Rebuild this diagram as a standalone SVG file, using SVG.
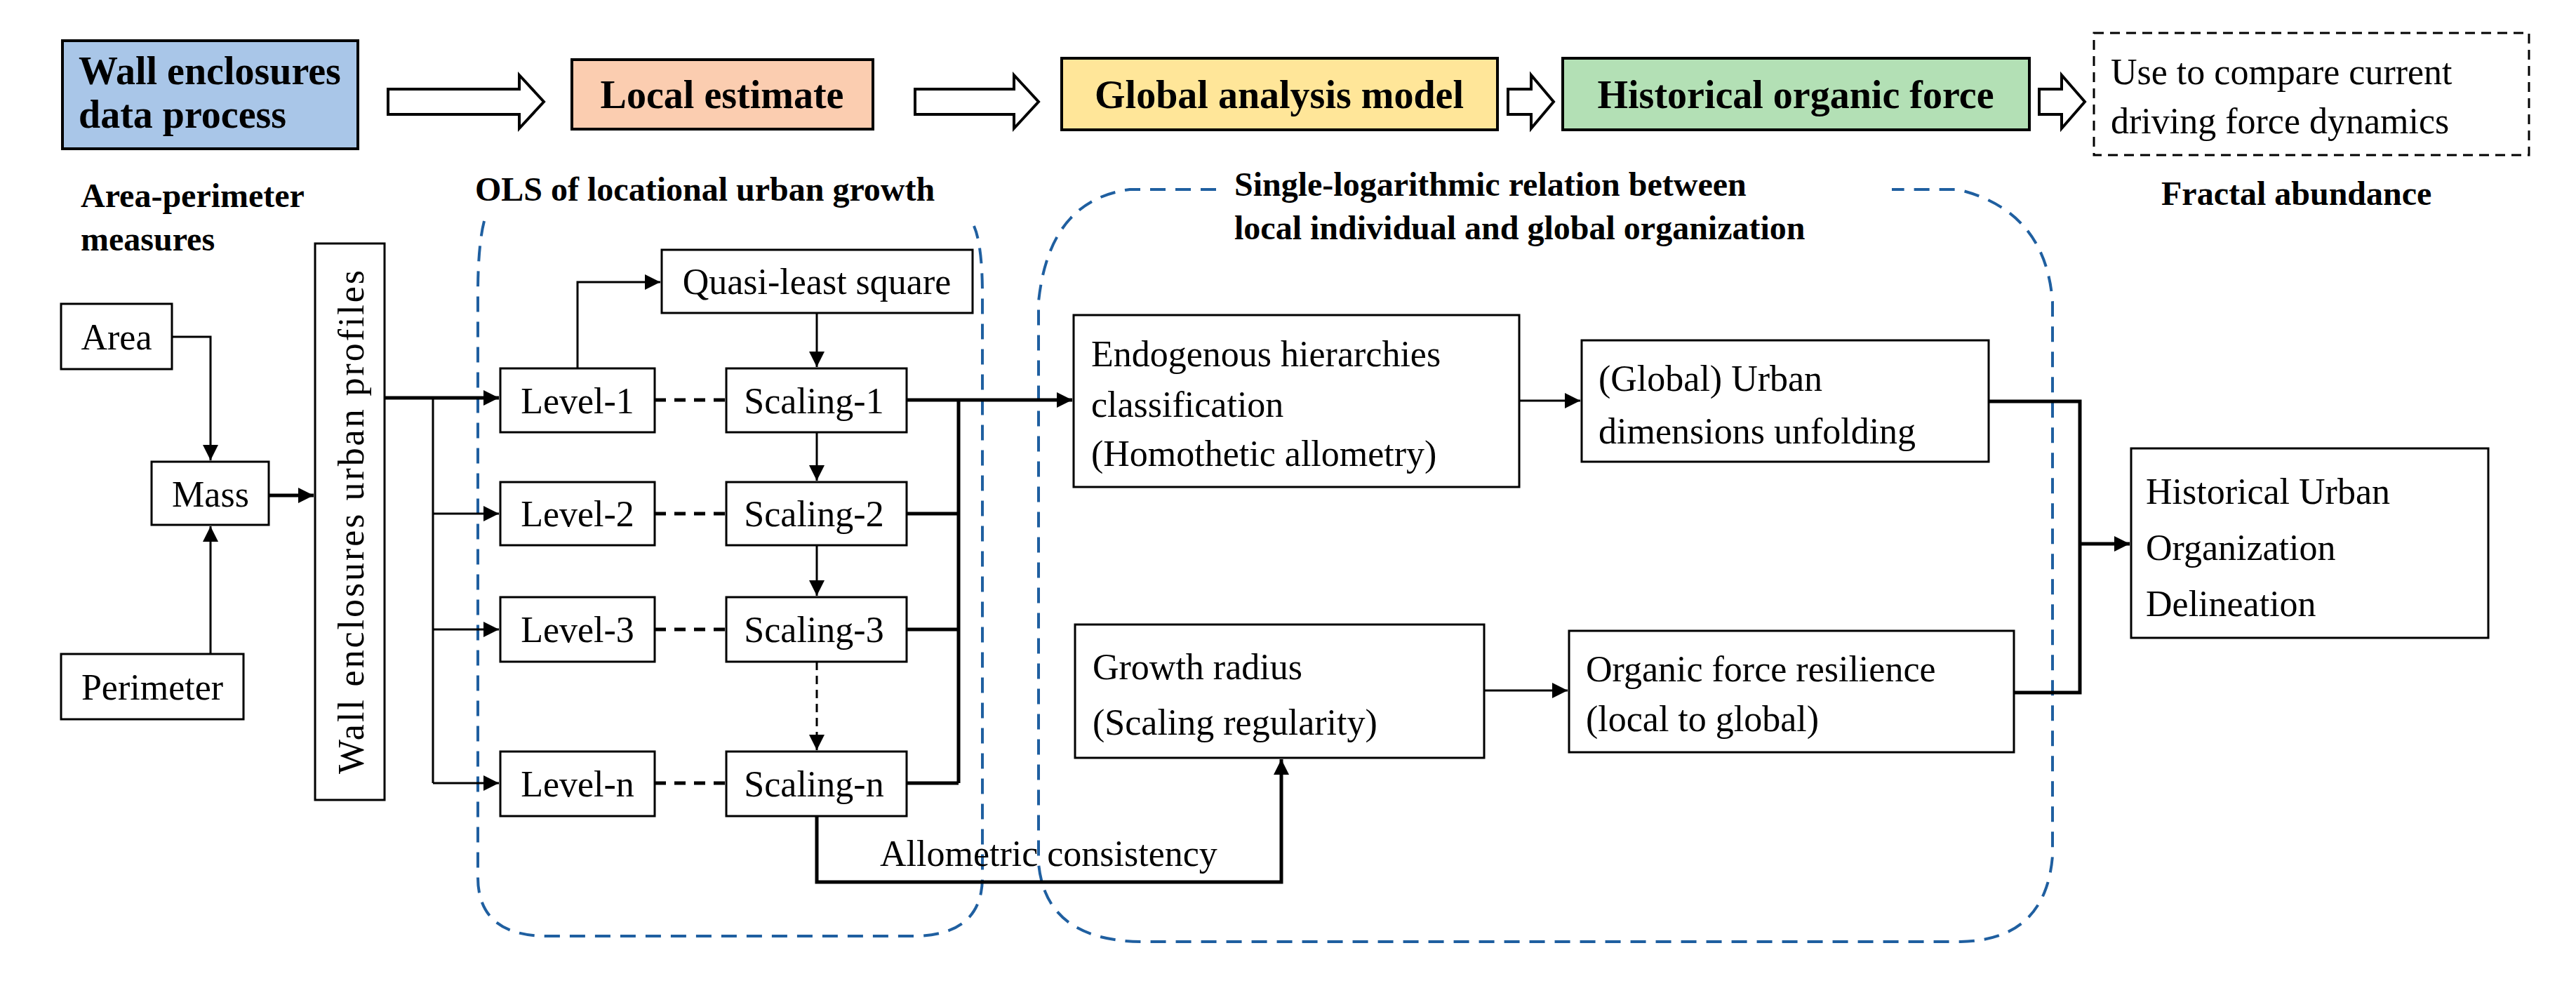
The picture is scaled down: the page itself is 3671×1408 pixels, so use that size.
<svg xmlns="http://www.w3.org/2000/svg" width="3671" height="1408" viewBox="0 0 3671 1408">
<defs>
<marker id="ah" viewBox="0 0 10 10" refX="10" refY="5" markerWidth="22" markerHeight="22" markerUnits="userSpaceOnUse" orient="auto"><path d="M0,0 L10,5 L0,10 z" fill="#000"/></marker>
<style>
.b{fill:#fff;stroke:#000;stroke-width:3}
.t{font-family:"Liberation Serif",serif;font-size:52px;fill:#000}
.h{font-family:"Liberation Serif",serif;font-size:56px;font-weight:bold;fill:#000}
.s{font-family:"Liberation Serif",serif;font-size:48px;font-weight:bold;fill:#000}
.c{fill:none;stroke:#000;stroke-width:3}
.k{fill:none;stroke:#000;stroke-width:5}
.d{fill:none;stroke:#000;stroke-width:5;stroke-dasharray:16 12}
.bl{fill:none;stroke:#1f5fa0;stroke-width:4;stroke-dasharray:22 14}
.ba{fill:#fff;stroke:#000;stroke-width:4}
</style>
</defs>
<g id="containers">
<path class="bl" d="M690,315 Q681,350 681,420 V1250 Q681,1334 780,1334 H1300 Q1400,1334 1400,1250 V420 Q1400,350 1388,322"/>
<path class="bl" d="M1733,270 H1610 Q1495,285 1480,430 V1230 Q1490,1342 1630,1342 H2790 Q2915,1342 2925,1220 V430 Q2915,300 2790,270 H2696"/>
</g>
<g id="wall-data"><rect x="89" y="58" width="421" height="154" fill="#a9c6e8" stroke="#000" stroke-width="4"/><text class="h" x="112" y="120" font-size="52">Wall enclosures</text><text class="h" x="112" y="182" font-size="52">data process</text></g>
<g id="local"><rect x="815" y="85" width="429" height="99" fill="#fbcdb0" stroke="#000" stroke-width="4"/><text class="h" x="1029" y="154" text-anchor="middle">Local estimate</text></g>
<g id="global"><rect x="1513" y="83" width="621" height="102" fill="#ffe699" stroke="#000" stroke-width="4"/><text class="h" x="1823" y="154" text-anchor="middle">Global analysis model</text></g>
<g id="hist-force"><rect x="2227" y="83" width="665" height="102" fill="#b3e0b5" stroke="#000" stroke-width="4"/><text class="h" x="2559" y="154" text-anchor="middle">Historical organic force</text></g>
<g id="compare"><rect x="2984" y="47" width="620" height="174" fill="#fff" stroke="#000" stroke-width="3" stroke-dasharray="14 9"/><text class="t" x="3008" y="120" font-size="57">Use to compare current</text><text class="t" x="3008" y="190" font-size="57">driving force dynamics</text></g>
<g id="block-arrows">
<polygon class="ba" points="553,127 740,127 740,107 775,145 740,183 740,163 553,163"/>
<polygon class="ba" points="1304,127 1445,127 1445,107 1480,145 1445,183 1445,163 1304,163"/>
<polygon class="ba" points="2149,127 2182,127 2182,107 2214,145 2182,183 2182,163 2149,163"/>
<polygon class="ba" points="2906,127 2938,127 2938,107 2971,145 2938,183 2938,163 2906,163"/>
</g>
<g id="labels">
<text class="s" x="115" y="295">Area-perimeter</text>
<text class="s" x="115" y="357">measures</text>
<text class="s" x="677" y="286">OLS of locational urban growth</text>
<text class="s" x="1759" y="279">Single-logarithmic relation between</text>
<text class="s" x="1759" y="341">local individual and global organization</text>
<text class="s" x="3080" y="292">Fractal abundance</text>
<text class="t" x="1254" y="1234" font-size="44">Allometric consistency</text>
</g>
<g id="area"><rect class="b" x="87" y="433" width="158" height="93"/><text class="t" x="166" y="498" text-anchor="middle">Area</text></g>
<g id="mass"><rect class="b" x="216" y="658" width="167" height="90"/><text class="t" x="300" y="722" text-anchor="middle">Mass</text></g>
<g id="perimeter"><rect class="b" x="87" y="932" width="260" height="93"/><text class="t" x="217" y="997" text-anchor="middle">Perimeter</text></g>
<g id="profiles"><rect class="b" x="449" y="347" width="99" height="793"/><text class="t" transform="translate(518,1103) rotate(-90)" textLength="718" lengthAdjust="spacing" font-size="54">Wall enclosures urban profiles</text></g>
<g id="quasi"><rect class="b" x="943" y="356" width="443" height="90"/><text class="t" x="1164" y="419" text-anchor="middle">Quasi-least square</text></g>
<g id="level1"><rect class="b" x="713" y="525" width="220" height="91"/><text class="t" x="823" y="589" text-anchor="middle">Level-1</text></g>
<g id="level2"><rect class="b" x="713" y="687" width="220" height="90"/><text class="t" x="823" y="750" text-anchor="middle">Level-2</text></g>
<g id="level3"><rect class="b" x="713" y="851" width="220" height="92"/><text class="t" x="823" y="915" text-anchor="middle">Level-3</text></g>
<g id="leveln"><rect class="b" x="713" y="1071" width="220" height="92"/><text class="t" x="823" y="1135" text-anchor="middle">Level-n</text></g>
<g id="scaling1"><rect class="b" x="1035" y="525" width="257" height="91"/><text class="t" x="1160" y="589" text-anchor="middle">Scaling-1</text></g>
<g id="scaling2"><rect class="b" x="1035" y="687" width="257" height="90"/><text class="t" x="1160" y="750" text-anchor="middle">Scaling-2</text></g>
<g id="scaling3"><rect class="b" x="1035" y="851" width="257" height="92"/><text class="t" x="1160" y="915" text-anchor="middle">Scaling-3</text></g>
<g id="scalingn"><rect class="b" x="1035" y="1071" width="257" height="92"/><text class="t" x="1160" y="1135" text-anchor="middle">Scaling-n</text></g>
<g id="endogenous"><rect class="b" x="1530" y="449" width="635" height="245"/><text class="t" x="1555" y="522" font-size="57">Endogenous hierarchies</text><text class="t" x="1555" y="594" font-size="57">classification</text><text class="t" x="1555" y="664" font-size="57">(Homothetic allometry)</text></g>
<g id="dimensions"><rect class="b" x="2254" y="485" width="580" height="173"/><text class="t" x="2278" y="557" font-size="57">(Global) Urban</text><text class="t" x="2278" y="632" font-size="57">dimensions unfolding</text></g>
<g id="growth"><rect class="b" x="1532" y="890" width="583" height="190"/><text class="t" x="1557" y="968" font-size="66">Growth radius</text><text class="t" x="1557" y="1047" font-size="66">(Scaling regularity)</text></g>
<g id="resilience"><rect class="b" x="2236" y="899" width="634" height="173"/><text class="t" x="2260" y="971" font-size="57">Organic force resilience</text><text class="t" x="2260" y="1042" font-size="57">(local to global)</text></g>
<g id="delineation"><rect class="b" x="3037" y="639" width="509" height="270"/><text class="t" x="3058" y="718" font-size="66">Historical Urban</text><text class="t" x="3058" y="798" font-size="66">Organization</text><text class="t" x="3058" y="878" font-size="66">Delineation</text></g>
<g id="connectors">
<path class="c" d="M245,480 H300 V656" marker-end="url(#ah)"/>
<path class="c" d="M300,932 V750" marker-end="url(#ah)"/>
<path class="k" d="M383,706 H447" marker-end="url(#ah)"/>
<path class="k" d="M548,567 H711" marker-end="url(#ah)"/>
<path class="c" d="M617,567 V1116"/>
<path class="c" d="M617,732 H711" marker-end="url(#ah)"/>
<path class="c" d="M617,897 H711" marker-end="url(#ah)"/>
<path class="c" d="M617,1116 H711" marker-end="url(#ah)"/>
<path class="c" d="M823,525 V402 H941" marker-end="url(#ah)"/>
<path class="c" d="M1164,446 V523" marker-end="url(#ah)"/>
<path class="c" d="M1164,616 V685" marker-end="url(#ah)"/>
<path class="c" d="M1164,777 V849" marker-end="url(#ah)"/>
<path class="c" d="M1164,943 V1069" stroke-dasharray="12 8" marker-end="url(#ah)"/>
<path class="d" d="M933,570 H1035 M933,732 H1035 M933,897 H1035 M933,1116 H1035"/>
<path class="k" d="M1292,570 H1528" marker-end="url(#ah)"/>
<path class="k" d="M1292,732 H1366 M1292,897 H1366 M1292,1116 H1366 M1366,570 V1116"/>
<path class="c" d="M2165,571 H2252" marker-end="url(#ah)"/>
<path class="k" d="M1164,1163 V1257 H1826 V1082" marker-end="url(#ah)"/>
<path class="c" d="M2115,984 H2234" marker-end="url(#ah)"/>
<path class="k" d="M2834,572 H2964 V987 H2870 M2964,775 H3035" marker-end="url(#ah)"/>
</g>
</svg>
